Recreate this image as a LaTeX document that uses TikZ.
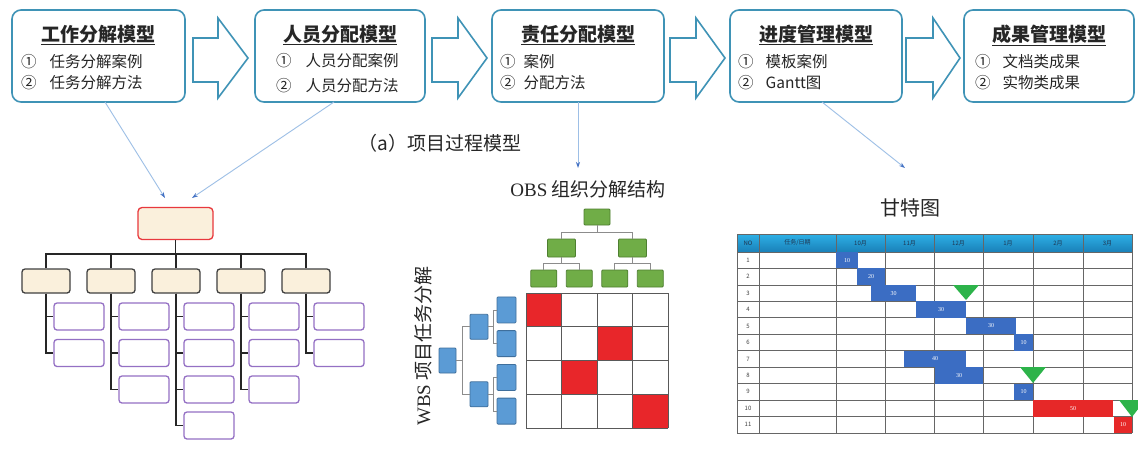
\documentclass[tikz,border=0pt]{standalone}
\usepackage{fontspec}
\setmainfont{Noto Sans CJK SC}
\newfontfamily\lserif{Liberation Serif}
\usetikzlibrary{arrows.meta}
\definecolor{topc}{HTML}{3F93B6}
\definecolor{txt}{HTML}{262626}
\definecolor{linkc}{HTML}{9DBFE6}
\definecolor{linkh}{HTML}{4472C4}
\definecolor{beige}{HTML}{FAF0DC}
\definecolor{rootred}{HTML}{E8383D}
\definecolor{purp}{HTML}{9470C4}
\definecolor{gfill}{HTML}{70AD47}
\definecolor{gdraw}{HTML}{4E7F30}
\definecolor{bfill}{HTML}{5B9BD5}
\definecolor{bdraw}{HTML}{3F6F9C}
\definecolor{cellred}{HTML}{E8262A}
\definecolor{gbarc}{HTML}{3B6DC3}
\definecolor{gredc}{HTML}{E62828}
\definecolor{tri}{HTML}{2DB34A}
\definecolor{hdtop}{HTML}{2DB0E6}
\definecolor{hdbot}{HTML}{1A80B8}
\definecolor{hdtxt}{HTML}{1F3550}
\newcommand\gbar[5]{%
  \fill[#5] (#2,{252+(#1-1)*16.45}) rectangle (#3,{252+#1*16.45});
  \node[bartext] at ({(#2+#3)/2},{252+(#1-0.5)*16.45}) {#4};}
\begin{document}
\begin{tikzpicture}[x=1pt,y=-1pt,
  topbox/.style={draw=topc, line width=1.6pt, rounded corners=9pt, fill=white, minimum height=92pt, inner sep=0pt},
  ttl/.style={font=\bfseries\fontsize{19}{19}\selectfont, text=txt, inner sep=0pt},
  item/.style={font=\fontsize{15.5}{16}\selectfont, text=txt, anchor=west, inner sep=0pt},
  blockarrow/.style={draw=topc, line width=1.6pt, fill=white, line join=miter},
  link/.style={draw=linkc, line width=0.9pt, -{Stealth[length=6pt,width=4pt,color=linkh]}},
  wroot/.style={draw=rootred, fill=beige, line width=1.3pt, rounded corners=4pt, minimum width=75pt, minimum height=32pt, inner sep=0pt},
  wmid/.style={draw=black!75, fill=beige, line width=1.3pt, rounded corners=3pt, minimum width=48pt, minimum height=24pt, inner sep=0pt},
  wleaf/.style={draw=purp, fill=white, line width=1.3pt, rounded corners=3pt, minimum width=50pt, minimum height=27pt, inner sep=0pt},
  treeline/.style={draw=black!85, line width=1.3pt},
  gbox/.style={draw=gdraw, fill=gfill, line width=0.8pt, rounded corners=1pt, inner sep=0pt},
  bbox/.style={draw=bdraw, fill=bfill, line width=0.8pt, rounded corners=1pt, inner sep=0pt},
  thin/.style={draw=black!45, line width=0.7pt},
  bartext/.style={text=white, font=\lserif\fontsize{6}{6}\selectfont, inner sep=0pt},
  hdtext/.style={text=hdtxt, font=\fontsize{6}{6}\selectfont, inner sep=0pt},
  numtext/.style={text=black!75, font=\fontsize{6}{6}\selectfont, inner sep=0pt}
]
\useasboundingbox (0,0) rectangle (1138,448);
\fill[white] (0,0) rectangle (1138,448);

% ---------- top process boxes ----------
\node[topbox, minimum width=173pt] (b1) at (98.5,56) {};
\node[topbox, minimum width=170pt] (b2) at (340,56) {};
\node[topbox, minimum width=172pt] (b3) at (578,56) {};
\node[topbox, minimum width=172pt] (b4) at (816,56) {};
\node[topbox, minimum width=170pt] (b5) at (1049,56) {};

\node[ttl] (t1) at (98.5,35) {\underline{工作分解模型}};
\node[item] (i11) at (21,62) {①\hspace{13pt}任务分解案例};
\node[item] (i12) at (21,83) {②\hspace{13pt}任务分解方法};

\node[ttl] (t2) at (340,35) {\underline{人员分配模型}};
\node[item] (i21) at (276,61) {①\hspace{14pt}人员分配案例};
\node[item] (i22) at (276,86) {②\hspace{14pt}人员分配方法};

\node[ttl] (t3) at (578,35) {\underline{责任分配模型}};
\node[item] (i31) at (500,62) {①\hspace{8pt}案例};
\node[item] (i32) at (500,83) {②\hspace{8pt}分配方法};

\node[ttl] (t4) at (816,35) {\underline{进度管理模型}};
\node[item] (i41) at (738,62) {①\hspace{12pt}模板案例};
\node[item] (i42) at (738,83) {②\hspace{12pt}Gantt图};

\node[ttl] (t5) at (1049,35) {\underline{成果管理模型}};
\node[item] (i51) at (975,62) {①\hspace{12pt}文档类成果};
\node[item] (i52) at (975,83) {②\hspace{12pt}实物类成果};

% block arrows
\foreach \s/\h/\t in {193/218/248, 432/458/487, 670/696/725, 906/933/960}{
  \draw[blockarrow] (\s,38) -- (\h,38) -- (\h,18) -- (\t,58) -- (\h,98) -- (\h,82) -- (\s,82) -- cycle;
}

% caption
\node[font=\fontsize{19}{19}\selectfont, text=txt, inner sep=0pt] (cap) at (440,143) {（a）项目过程模型};

% ---------- WBS tree (left) ----------
\node[wroot] (r) at (175.5,223.5) {};
\coordinate (rj) at (175.5,254);
\draw[treeline] (r.south) -- (rj);
\foreach \i/\x in {1/46,2/111,3/176,4/241,5/306}{
  \node[wmid] (m\i) at (\x,281) {};
  \draw[treeline] (m\i.north) |- (rj);
}
\foreach \i/\n in {1/2,2/3,3/4,4/3,5/2}{
  \foreach \j/\y in {1/316.5,2/353,3/389.5,4/425.5}{
    \ifnum\j>\n\else
      \path (m\i.south) ++(33,0) coordinate (tmp);
      \node[wleaf] (l\i\j) at (tmp |- 0,\y) {};
      \draw[treeline] (m\i.south) |- (l\i\j.west);
    \fi
  }
}

% ---------- RAM (OBS x WBS) ----------
\node[font=\fontsize{19}{19}\selectfont, text=txt, inner sep=0pt] (obst) at (588,189) {{\lserif OBS} 组织分解结构};
\node[gbox, minimum width=26pt, minimum height=16pt] (g0) at (597,217) {};
\node[gbox, minimum width=28pt, minimum height=18pt] (g1) at (561.5,248) {};
\node[gbox, minimum width=28pt, minimum height=18pt] (g2) at (632.5,248) {};
\foreach \k/\x in {1/543.75,2/579.25,3/614.75,4/650.25}{
  \node[gbox, minimum width=26pt, minimum height=17pt] (g3\k) at (\x,278.5) {};
}
\draw[thin] (g0.south) -- ++(0,7) coordinate (gj0);
\draw[thin] (g1.north) |- (gj0) -| (g2.north);
\draw[thin] (g1.south) -- ++(0,6) coordinate (gj1);
\draw[thin] (g31.north) |- (gj1) -| (g32.north);
\draw[thin] (g2.south) -- ++(0,6) coordinate (gj2);
\draw[thin] (g33.north) |- (gj2) -| (g34.north);

% grid
\fill[cellred] (526,293) rectangle (561.5,326.75);
\fill[cellred] (597,326.75) rectangle (632.5,360.5);
\fill[cellred] (561.5,360.5) rectangle (597,394.25);
\fill[cellred] (632.5,394.25) rectangle (668,428);
\foreach \x in {526,561.5,597,632.5,668}{ \draw[black!65, line width=0.9pt] (\x,293) -- (\x,428); }
\foreach \y in {293,326.75,360.5,394.25,428}{ \draw[black!65, line width=0.9pt] (526,\y) -- (668,\y); }

% blue WBS tree
\node[bbox, minimum width=17pt, minimum height=25pt] (w0) at (447.5,360.5) {};
\node[bbox, minimum width=18pt, minimum height=25pt] (w1) at (479,326.75) {};
\node[bbox, minimum width=18pt, minimum height=25pt] (w2) at (479,394.25) {};
\foreach \k/\y in {1/309.9,2/343.6,3/377.4,4/411.1}{
  \node[bbox, minimum width=19pt, minimum height=26pt] (w3\k) at (506.5,\y) {};
}
\draw[thin] (w0.east) -- ++(6,0) coordinate (wj0);
\draw[thin] (w1.west) -| (wj0) |- (w2.west);
\draw[thin] (w1.east) -- ++(5,0) coordinate (wj1);
\draw[thin] (w31.west) -| (wj1) |- (w32.west);
\draw[thin] (w2.east) -- ++(5,0) coordinate (wj2);
\draw[thin] (w33.west) -| (wj2) |- (w34.west);
\node[font=\fontsize{19}{19}\selectfont, text=txt, inner sep=0pt, rotate=90] (wbst) at (423,346) {{\lserif WBS} 项目任务分解};

% ---------- Gantt ----------
\node[font=\fontsize{20}{20}\selectfont, text=txt, inner sep=0pt] (gt) at (910,208) {甘特图};
\shade[top color=hdtop, bottom color=hdbot] (737,234) rectangle (1132,252);
\foreach \x in {737,759,836,885,934,983,1033,1083,1132}{ \draw[black!60, line width=0.7pt] (\x,234) -- (\x,433); }
\foreach \i in {0,...,11}{ \draw[black!60, line width=0.7pt] (737,{252+\i*16.45}) -- (1132,{252+\i*16.45}); }
\draw[black!60, line width=0.7pt] (737,234) -- (1132,234);
\gbar{1}{836}{858}{10}{gbarc}
\gbar{2}{857}{885}{20}{gbarc}
\gbar{3}{871}{916}{30}{gbarc}
\gbar{4}{916}{966}{30}{gbarc}
\gbar{5}{966}{1016}{30}{gbarc}
\gbar{6}{1014}{1033}{10}{gbarc}
\gbar{7}{904}{966}{40}{gbarc}
\gbar{8}{935}{983}{30}{gbarc}
\gbar{9}{1014}{1033}{10}{gbarc}
\gbar{10}{1033}{1113}{50}{gredc}
\gbar{11}{1114}{1132}{10}{gredc}
\foreach \i in {1,...,11}{ \node[numtext] at (748,{252+(\i-0.5)*16.45}) {\i}; }
\foreach \x/\t in {748/NO,797.5/{任务/日期},860.5/10月,909.5/11月,958.5/12月,1008/1月,1058/2月,1107.5/3月}{
  \node[hdtext] at (\x,243) {\t};
}
\fill[tri] (953,285) -- (979,285) -- (966,300) -- cycle;
\fill[tri] (1020,367) -- (1046,367) -- (1033,383) -- cycle;
\begin{scope}
\clip (0,0) rectangle (1138,448);
\fill[tri] (1119,400) -- (1145,400) -- (1132,417) -- cycle;
\end{scope}

% ---------- links ----------
\coordinate (s1) at (105,102);
\coordinate (e1) at (165,198);
\coordinate (s2) at (334,102);
\coordinate (e2) at (192,198);
\coordinate (s3) at (578,102);
\coordinate (e3) at (578,168);
\coordinate (s4) at (822,102);
\coordinate (e4) at (905,168);
\draw[link] (s1) -- (e1);
\draw[link] (s2) -- (e2);
\draw[link] (s3) -- (e3);
\draw[link] (s4) -- (e4);
\end{tikzpicture}
\end{document}
